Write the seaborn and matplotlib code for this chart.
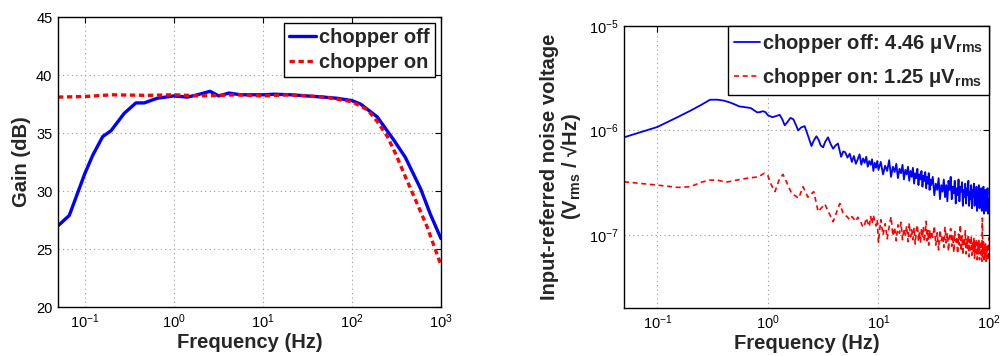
import numpy as np
import matplotlib
matplotlib.use("Agg")
import matplotlib.pyplot as plt
import seaborn as sns
from matplotlib.ticker import NullLocator

# ---------------- data: gain (left panel) ----------------
gain_off_freq = [0.05, 0.067, 0.1, 0.123, 0.159, 0.197, 0.277, 0.375, 0.465, 0.65, 1.0, 1.42,
                 1.84, 2.55, 3.2, 4.17, 5.6, 10.3, 13.3, 20.5, 31.3, 48.3, 68, 100, 125, 192,
                 295, 398, 590, 760, 1000]
gain_off_db = [27.0, 27.9, 31.5, 33.1, 34.7, 35.2, 36.7, 37.6, 37.6, 38.0, 38.2, 38.1,
               38.3, 38.6, 38.2, 38.45, 38.3, 38.3, 38.35, 38.3, 38.2, 38.1, 38.0, 37.8, 37.5, 36.4,
               34.4, 32.9, 30.2, 28.0, 25.9]
gain_on_freq = [0.05, 0.1, 0.2, 0.5, 1.0, 2.0, 5.0, 10.0, 20.0, 50.0, 100, 150, 192, 250, 310,
                400, 500, 700, 1000]
gain_on_db = [38.1, 38.15, 38.3, 38.25, 38.3, 38.2, 38.3, 38.2, 38.3, 38.1, 37.7, 37.0, 36.0,
              34.7, 33.2, 31.2, 29.5, 26.9, 23.6]

# ---------------- data: noise (right panel), values in uV/sqrt(Hz) ----------------
noise_off_freq_low = [0.05, 0.1, 0.15, 0.2, 0.25, 0.3, 0.35, 0.4, 0.45, 0.5, 0.55, 0.6, 0.7,
                      0.75, 0.8, 0.85, 0.9, 0.95, 1.0, 1.1, 1.15, 1.2, 1.28, 1.35, 1.42, 1.5,
                      1.6, 1.7, 1.8, 1.88, 2.0, 2.15, 2.3, 2.48, 2.6, 2.75, 2.9, 3.0, 3.16,
                      3.3, 3.5, 3.7, 3.89, 4.1, 4.3, 4.5, 4.6, 4.8]
noise_off_low = [0.86, 1.08, 1.33, 1.55, 1.76, 1.97, 1.97, 1.93, 1.86, 1.78, 1.70, 1.68, 1.64,
                 1.56, 1.49, 1.50, 1.53, 1.50, 1.40, 1.34, 1.36, 1.38, 1.41, 1.28, 1.12, 1.20,
                 1.32, 1.28, 1.12, 1.00, 1.07, 1.10, 0.90, 0.71, 0.80, 0.88, 0.80, 0.72, 0.69,
                 0.78, 0.86, 0.74, 0.67, 0.72, 0.75, 0.62, 0.56, 0.63]

noise_on_freq_low = [0.05, 0.1, 0.155, 0.2, 0.25, 0.3, 0.35, 0.42, 0.52, 0.66, 0.82, 0.93, 1.0,
                     1.06, 1.16, 1.26, 1.37, 1.45, 1.64, 1.9, 2.08, 2.3, 2.6, 2.85, 3.27, 3.5,
                     3.89, 4.47, 4.75]
noise_on_low = [0.323, 0.30, 0.285, 0.29, 0.32, 0.335, 0.335, 0.32, 0.335, 0.35, 0.36, 0.39,
                0.37, 0.31, 0.26, 0.335, 0.38, 0.335, 0.25, 0.225, 0.29, 0.23, 0.26, 0.167,
                0.198, 0.17, 0.134, 0.20, 0.165]

noise_freq_high = [5.0, 5.25, 5.5, 5.75, 6.0, 6.25, 6.5, 6.75, 7.0, 7.25, 7.5, 7.75, 8.0, 8.25,
                   8.5, 8.75, 9.0, 9.25, 9.5, 9.75, 10.0,
                   10.5, 11.0, 11.5, 12.0, 12.5, 13.0, 13.5, 14.0, 14.5, 15.0, 15.5, 16.0, 16.5,
                   17.0, 17.5, 18.0, 18.5, 19.0, 19.5, 20.0, 20.5, 21.0, 21.5, 22.0, 22.5, 23.0,
                   23.5, 24.0, 24.5, 25.0, 25.5, 26.0, 26.5, 27.0, 27.5, 28.0, 28.5, 29.0, 29.5,
                   30.0,
                   31, 32, 33, 34, 35, 36, 37, 38, 39, 40, 41, 42, 43, 44, 45, 46, 47, 48, 49, 50,
                   51, 52, 53, 54, 55, 56, 57, 58, 59, 60, 61, 62, 63, 64, 65, 66, 67, 68, 69, 70,
                   71, 72, 73, 74, 75, 76, 77, 78, 79, 80, 81, 82, 83, 84, 85, 86, 87, 88, 89, 90,
                   91, 92, 93, 94, 95, 96, 97, 98, 99, 100]
noise_off_high = [0.62, 0.55, 0.60, 0.50, 0.57, 0.48, 0.53, 0.59, 0.47, 0.54, 0.49, 0.56, 0.45,
                  0.51, 0.47, 0.53, 0.41, 0.49, 0.44, 0.51, 0.42,
                  0.50, 0.38, 0.46, 0.41, 0.52, 0.36, 0.45, 0.40, 0.48, 0.35,
                  0.43, 0.39, 0.47, 0.34, 0.42, 0.38, 0.45, 0.33, 0.41, 0.36,
                  0.44, 0.31, 0.39, 0.35, 0.43, 0.30, 0.38, 0.34, 0.41, 0.29,
                  0.37, 0.33, 0.40, 0.28, 0.36, 0.31, 0.39, 0.27, 0.34, 0.30,
                  0.36, 0.24, 0.31, 0.27, 0.35, 0.22, 0.30, 0.26, 0.34, 0.23,
                  0.30, 0.21, 0.33, 0.27, 0.36, 0.22, 0.29, 0.25, 0.33, 0.20,
                  0.28, 0.24, 0.34, 0.21, 0.29, 0.26, 0.32, 0.19, 0.27, 0.23,
                  0.31, 0.20, 0.28, 0.24, 0.33, 0.19, 0.26, 0.22, 0.30, 0.18,
                  0.27, 0.23, 0.31, 0.19, 0.25, 0.21, 0.29, 0.17, 0.26, 0.22,
                  0.30, 0.18, 0.24, 0.21, 0.28, 0.17, 0.25, 0.20, 0.29, 0.16,
                  0.24, 0.19, 0.27, 0.17, 0.23, 0.20, 0.28, 0.16, 0.22, 0.19]
noise_on_high = [0.156, 0.148, 0.140, 0.150, 0.142, 0.135, 0.148, 0.139, 0.130, 0.118, 0.125,
                 0.145, 0.132, 0.120, 0.150, 0.128, 0.155, 0.135, 0.122, 0.140, 0.085,
                 0.140, 0.100, 0.128, 0.092, 0.120, 0.150, 0.098, 0.118, 0.088, 0.125,
                 0.104, 0.132, 0.090, 0.115, 0.100, 0.122, 0.086, 0.130, 0.096, 0.112,
                 0.090, 0.118, 0.082, 0.110, 0.125, 0.088, 0.108, 0.084, 0.115, 0.094,
                 0.120, 0.086, 0.105, 0.135, 0.088, 0.110, 0.080, 0.112, 0.092, 0.108,
                 0.095, 0.122, 0.080, 0.105, 0.072, 0.112, 0.088, 0.100, 0.076, 0.120,
                 0.084, 0.104, 0.070, 0.098, 0.115, 0.078, 0.100, 0.068, 0.108, 0.086,
                 0.096, 0.066, 0.102, 0.080, 0.125, 0.070, 0.098, 0.064, 0.094, 0.078,
                 0.110, 0.066, 0.092, 0.074, 0.100, 0.062, 0.090, 0.072, 0.098, 0.064,
                 0.088, 0.070, 0.095, 0.060, 0.086, 0.068, 0.092, 0.058, 0.084, 0.066,
                 0.090, 0.058, 0.082, 0.066, 0.088, 0.056, 0.145, 0.062, 0.086, 0.058,
                 0.080, 0.062, 0.084, 0.056, 0.078, 0.060, 0.082, 0.057, 0.076, 0.095]

label_gain_off = "chopper off"
label_gain_on = "chopper on"
label_noise_off = r"chopper off: 4.46 μ$\mathbf{V}_{\mathbf{rms}}$"
label_noise_on = r"chopper on: 1.25 μ$\mathbf{V}_{\mathbf{rms}}$"

# ---------------- style ----------------
sns.set_theme(style="white")
plt.rcParams["font.family"] = ["Liberation Sans", "DejaVu Sans"]
plt.rcParams["mathtext.fontset"] = "custom"
plt.rcParams["mathtext.rm"] = "Liberation Sans"
plt.rcParams["mathtext.bf"] = "Liberation Sans:bold"
plt.rcParams["mathtext.it"] = "Liberation Sans:italic"
plt.rcParams["axes.unicode_minus"] = False

BLUE = "#0000ff"
RED = "#ff0000"
LBL = 14.5
TCK = 10.5

fig = plt.figure(figsize=(10.05, 3.56), dpi=100)
ax1 = fig.add_axes([0.0577, 0.1376, 0.3811, 0.8144])
ax2 = fig.add_axes([0.6209, 0.1348, 0.3632, 0.7922])


def style_axes(ax):
    for s in ax.spines.values():
        s.set_visible(True)
        s.set_color("black")
        s.set_linewidth(1.0)
    ax.tick_params(which="both", direction="in", length=4, width=0.8, top=True, right=True,
                   labelsize=TCK, colors="black", pad=4)
    ax.grid(True, which="major", linestyle=(0, (1, 3)), color="#9a9a9a", linewidth=0.8)
    ax.set_axisbelow(True)


# ---------------- left: gain ----------------
sns.lineplot(x=gain_off_freq, y=gain_off_db, ax=ax1, color=BLUE, linewidth=2.4,
             label=label_gain_off, sort=False, estimator=None)
sns.lineplot(x=gain_on_freq, y=gain_on_db, ax=ax1, color=RED, linewidth=2.4,
             label=label_gain_on, sort=False, estimator=None)
ax1.lines[1].set_dashes((1.6, 1.1))
ax1.set_xscale("log")
ax1.set_xlim(0.05, 1000)
ax1.set_ylim(20, 45)
ax1.set_xticks([0.1, 1, 10, 100, 1000])
ax1.set_yticks([20, 25, 30, 35, 40, 45])
ax1.xaxis.set_minor_locator(NullLocator())
style_axes(ax1)
ax1.set_xlabel("Frequency (Hz)", fontsize=LBL, fontweight="bold", labelpad=1)
ax1.set_ylabel("Gain (dB)", fontsize=LBL, fontweight="bold", labelpad=4)
leg1 = ax1.legend(loc="upper right", prop={"weight": "bold", "size": LBL},
                  frameon=True, fancybox=False, framealpha=1, edgecolor="black",
                  handlelength=1.35, handletextpad=0.15, labelspacing=0.3,
                  borderpad=0.25, borderaxespad=0.3)
leg1.get_frame().set_linewidth(1.0)

# ---------------- right: noise ----------------
off_f = noise_off_freq_low + noise_freq_high
off_v = np.array(noise_off_low + noise_off_high) * 1e-6
on_f = noise_on_freq_low + noise_freq_high
on_v = np.array(noise_on_low + noise_on_high) * 1e-6

sns.lineplot(x=off_f, y=off_v, ax=ax2, color=BLUE, linewidth=1.3,
             label=label_noise_off, sort=False, estimator=None)
sns.lineplot(x=on_f, y=on_v, ax=ax2, color=RED, linewidth=1.2,
             label=label_noise_on, sort=False, estimator=None)
ax2.lines[1].set_dashes((3.0, 2.2))
ax2.set_xscale("log")
ax2.set_yscale("log")
ax2.set_xlim(0.05, 100)
ax2.set_ylim(2e-8, 1e-5)
ax2.set_xticks([0.1, 1, 10, 100])
ax2.set_yticks([1e-7, 1e-6, 1e-5])
ax2.xaxis.set_minor_locator(NullLocator())
ax2.yaxis.set_minor_locator(NullLocator())
style_axes(ax2)
ax2.set_xlabel("Frequency (Hz)", fontsize=LBL, fontweight="bold", labelpad=1)
ax2.set_ylabel("Input-referred noise voltage\n" + r"($\mathbf{V}_{\mathbf{rms}}$ / √Hz)",
               fontsize=LBL, fontweight="bold", labelpad=4, linespacing=1.0)
leg2 = ax2.legend(loc="upper right", prop={"weight": "bold", "size": LBL},
                  frameon=True, fancybox=False, framealpha=1, edgecolor="black",
                  handlelength=1.3, handletextpad=0.1, labelspacing=0.55,
                  borderpad=0.3, borderaxespad=0.0)
leg2.get_frame().set_linewidth(1.0)

fig.savefig("out.png", dpi=100)
